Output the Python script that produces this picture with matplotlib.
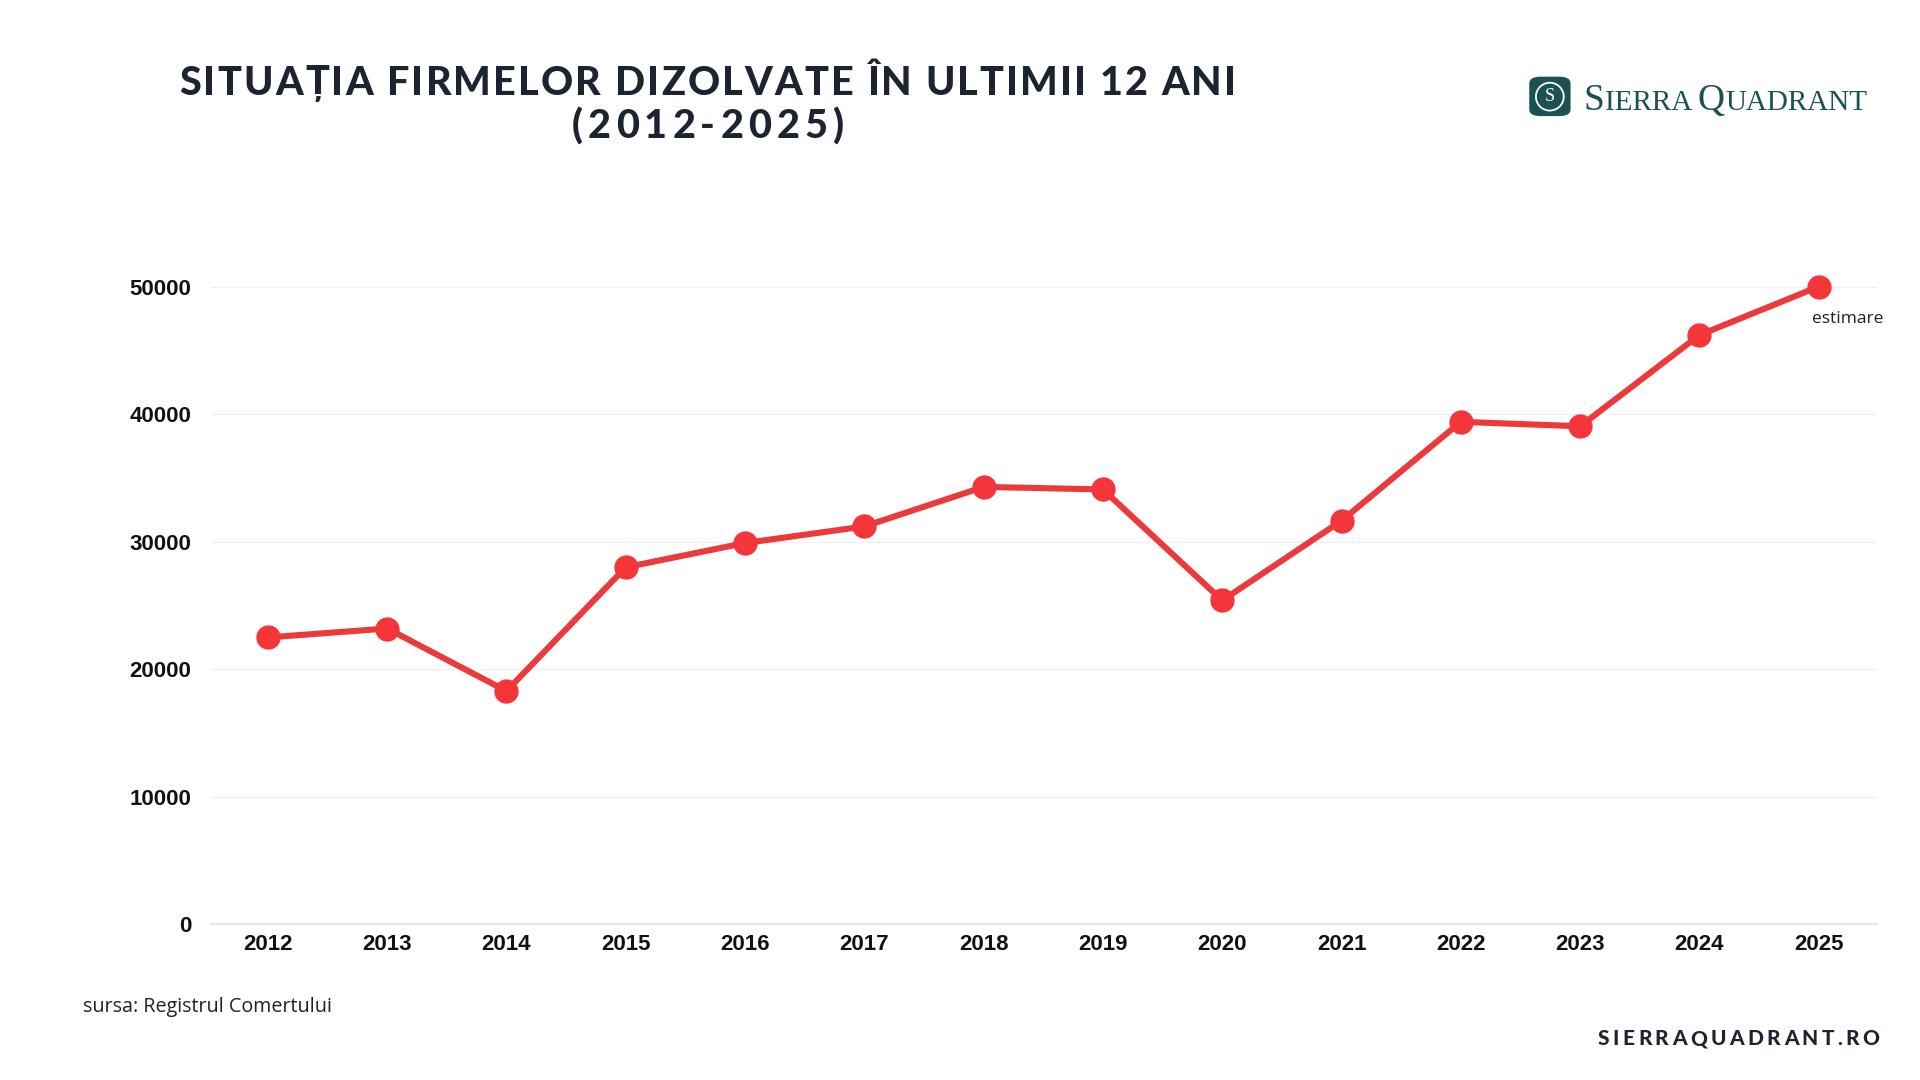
import matplotlib
matplotlib.use("Agg")
import matplotlib.pyplot as plt
from matplotlib.font_manager import FontProperties
from matplotlib.patches import FancyBboxPatch, Ellipse

years = [2012, 2013, 2014, 2015, 2016, 2017, 2018, 2019, 2020, 2021, 2022, 2023, 2024, 2025]
firme_dizolvate = [22500, 23200, 18300, 28000, 29900, 31200, 34300, 34100, 25400, 31650, 39400, 39050, 46200, 50000]
y_ticks = [0, 10000, 20000, 30000, 40000, 50000]
title_line1 = "SITUAȚIA FIRMELOR DIZOLVATE ÎN ULTIMII 12 ANI"
title_line2 = "(2012-2025)"
source_text = "sursa: Registrul Comertului"
site_text = "SIERRAQUADRANT.RO"
note_text = "estimare"

W, H = 1920, 1080
fig = plt.figure(figsize=(19.2, 10.8), dpi=100)
fig.patch.set_facecolor("white")

ax = fig.add_axes([0.1097, 0.144, 0.868, 0.6497])
ax.set_xlim(2011.52, 2025.49)
ax.set_ylim(0, 55000)

ax.plot(years, firme_dizolvate, color="#ec3a3b", lw=4.4, marker="o", ms=16.5,
        markerfacecolor="#f4363a", markeredgecolor="#f4363a", zorder=3, solid_capstyle="round")

ax.set_yticks(y_ticks)
ax.set_yticklabels([str(v) for v in y_ticks])
ax.set_xticks(years)
ax.set_xticklabels([str(y) for y in years])
for lab in ax.get_xticklabels() + ax.get_yticklabels():
    lab.set_fontfamily("Liberation Sans")
    lab.set_fontweight("bold")
    lab.set_fontsize(16)
    lab.set_color("#111111")
ax.tick_params(axis="y", length=0, pad=14)
ax.tick_params(axis="x", length=0, pad=7)
ax.grid(axis="y", color="#f0f0f0", lw=1.0, zorder=0)
ax.set_axisbelow(True)
for s in ["top", "right", "left"]:
    ax.spines[s].set_visible(False)
ax.spines["bottom"].set_color("#e3e3e3")
ax.spines["bottom"].set_linewidth(1.2)
ax.patch.set_alpha(0)

ax.annotate(note_text, xy=(years[-1], firme_dizolvate[-1]), xytext=(-5, -23),
            textcoords="offset points", ha="left", va="center",
            fontsize=12.5, family="Open Sans", color="#222222")

fig.text(0.0434, 0.068, source_text, ha="left", va="center", fontsize=14.2,
         family="Open Sans", color="#222222")

renderer = fig.canvas.get_renderer()


def text_w(s, fp):
    w1, _, _ = renderer.get_text_width_height_descent(s + "|", fp, ismath=False)
    w2, _, _ = renderer.get_text_width_height_descent("|", fp, ismath=False)
    return w1 - w2


def spaced_text(s, xc_px, yc_px, fp, spacing, color, align="center"):
    n = len(s)
    pos = [text_w(s[:i], fp) + i * spacing for i in range(n)]
    total = text_w(s, fp) + (n - 1) * spacing
    if align == "center":
        x0 = xc_px - total / 2
    elif align == "right":
        x0 = xc_px - total
    else:
        x0 = xc_px
    for ch, p in zip(s, pos):
        fig.text((x0 + p) / W, 1 - yc_px / H, ch, fontproperties=fp, color=color,
                 ha="left", va="center_baseline")
    return total


# Title with letter spacing
title_fp = FontProperties(family="Lato", weight=900, size=28.5)
target_w = 1057
nat = text_w(title_line1, title_fp)
sp = (target_w - nat) / (len(title_line1) - 1)
TITLE_COL = "#1c2331"
spaced_text(title_line1, 0.3686 * W, 80, title_fp, sp, TITLE_COL)
spaced_text(title_line2, 0.3686 * W, 123, title_fp, sp + 3, TITLE_COL)

# Site text bottom right
site_fp = FontProperties(family="Lato", weight=900, size=15)
nat2 = text_w(site_text, site_fp)
sp2 = (282 - nat2) / (len(site_text) - 1)
spaced_text(site_text, 0.979 * W, 1037, site_fp, sp2, TITLE_COL, align="right")

# Logo
TEAL = "#1b5152"
icon = FancyBboxPatch((0.7965, 0.8925), 0.0215, 0.0365,
                      boxstyle="round,pad=0,rounding_size=0.006",
                      transform=fig.transFigure, facecolor=TEAL, edgecolor="none")
fig.patches.append(icon)
ring = Ellipse((0.8072, 0.9105), 0.0145, 0.0145 * W / H, transform=fig.transFigure,
               fill=False, edgecolor="white", lw=1.3)
fig.patches.append(ring)
fig.text(0.8072, 0.9105, "S", ha="center", va="center", fontsize=13,
         family="Liberation Serif", color="white")

logo_big = FontProperties(family="Liberation Serif", size=27)
logo_small = FontProperties(family="Liberation Serif", size=21)
parts = [("S", logo_big), ("IERRA ", logo_small), ("Q", logo_big), ("UADRANT", logo_small)]
x = 0.8246 * W
ybase = 1 - 90 / 882
for txt, fp in parts:
    fig.text(x / W, ybase, txt, fontproperties=fp, color=TEAL, ha="left", va="baseline")
    x += text_w(txt, fp) + 0.5

fig.savefig("out.png", dpi=100, facecolor="white")
